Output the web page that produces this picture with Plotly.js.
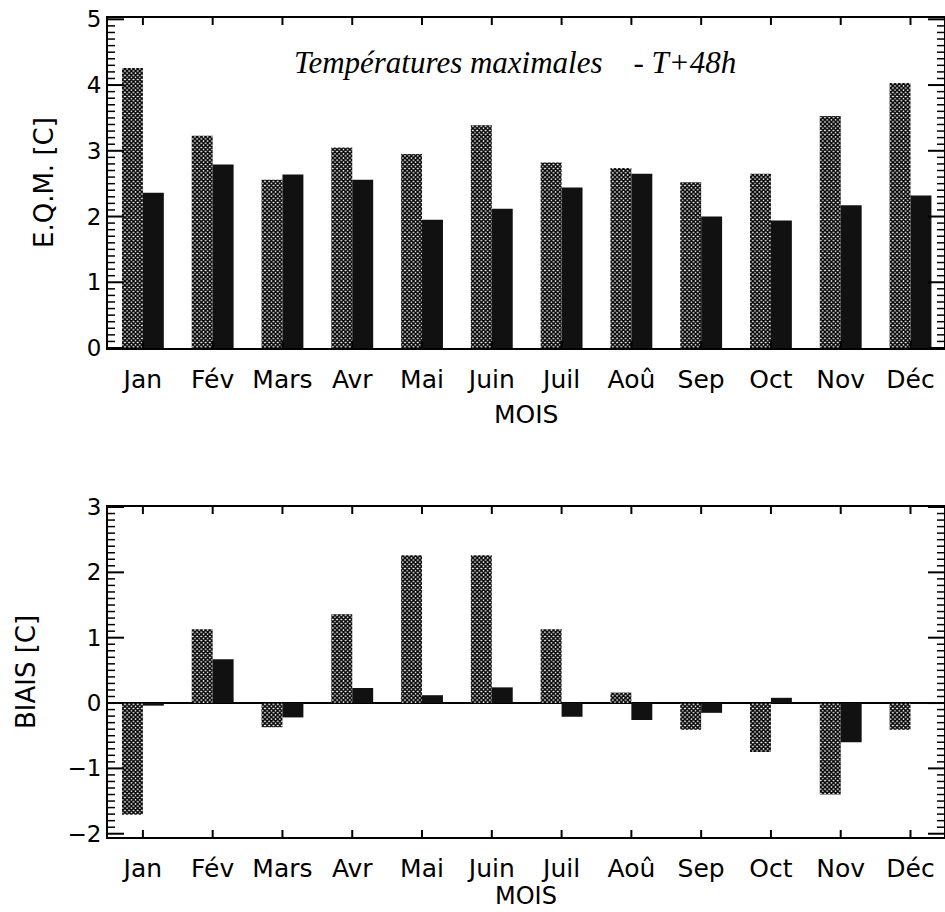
<!DOCTYPE html>
<html>
<head>
<meta charset="utf-8">
<script src="https://cdn.plot.ly/plotly-3.0.1.min.js"></script>
<style>html,body{margin:0;padding:0;background:#fff;}#chart{width:945px;height:912px;}</style>
</head>
<body>
<div id="chart"></div>
<script>
// Data
const months = ['Jan','Fév','Mars','Avr','Mai','Juin','Juil','Aoû','Sep','Oct','Nov','Déc'];
const eqmGrey  = [4.26, 3.23, 2.56, 3.05, 2.95, 3.39, 2.82, 2.74, 2.52, 2.65, 3.53, 4.03];
const eqmBlack = [2.36, 2.79, 2.64, 2.56, 1.95, 2.12, 2.44, 2.65, 2.00, 1.94, 2.17, 2.32];
const biaisGrey  = [-1.71, 1.13, -0.37, 1.36, 2.26, 2.26, 1.13, 0.16, -0.41, -0.75, -1.40, -0.41];
const biaisBlack = [-0.04, 0.67, -0.22, 0.23, 0.12, 0.24, -0.21, -0.26, -0.15, 0.08, -0.60, -0.01];
const eqmRange = [0, 5.02];
const biaisRange = [-2.05, 3];
const titleText = 'Températures maximales\u00A0\u00A0\u00A0 - T+48h';
const yTitleTop = 'E.Q.M. [C]';
const yTitleBottom = 'BIAIS [C]';
const xTitle = 'MOIS';

const W = 945, H = 912;
const PLOT_W = 836, PLOT_H = 330;
const greyMarker = {color: '#ffffff', line: {width: 0},
  pattern: {shape: 'x', fgcolor: '#000000', bgcolor: '#ffffff', size: 3, solidity: 0.75}};
const blackMarker = {color: '#111111', line: {width: 0}};

const traces = [
  {type: 'bar', x: months, y: eqmGrey, xaxis: 'x', yaxis: 'y', marker: greyMarker, hoverinfo: 'none'},
  {type: 'bar', x: months, y: eqmBlack, xaxis: 'x', yaxis: 'y', marker: blackMarker, hoverinfo: 'none'},
  {type: 'bar', x: months, y: biaisGrey, xaxis: 'x2', yaxis: 'y2', marker: greyMarker, hoverinfo: 'none'},
  {type: 'bar', x: months, y: biaisBlack, xaxis: 'x2', yaxis: 'y2', marker: blackMarker, hoverinfo: 'none'}
];

const xDomain = [108 / W, 944 / W];
function xAxis(anchor) {
  return {domain: xDomain, anchor: anchor, type: 'category', range: [-0.5, 11.48],
    showline: true, linecolor: '#000', linewidth: 2, mirror: true, ticks: '',
    showgrid: false, zeroline: false, ticklabelstandoff: 8,
    tickfont: {family: 'DejaVu Sans', size: 25, color: '#000'}, fixedrange: true};
}
function yAxis(anchor, dom, rng, zl) {
  return {domain: dom, anchor: anchor, range: rng, dtick: 1, tick0: 0,
    showline: true, linecolor: '#000', linewidth: 2, mirror: true, ticks: '',
    showgrid: false, zeroline: zl, zerolinecolor: '#000', zerolinewidth: 2,
    tickfont: {family: 'DejaVu Sans', size: 23, color: '#000'}, fixedrange: true};
}

// Tick marks drawn as shapes on the axes' own coordinate systems
function tickShapes(xa, ya, rng) {
  const s = [];
  const ln = {color: '#000', width: 1.5};
  const lnMaj = {color: '#000', width: 2};
  const lo = Math.ceil(rng[0] * 10 - 1e-9), hi = Math.floor(rng[1] * 10 + 1e-9);
  for (let i = lo; i <= hi; i++) {
    const v = i / 10;
    const major = (i % 10 === 0);
    const len = (major ? 16 : 7) / PLOT_W;
    [[0, len], [1, 1 - len]].forEach(function (p) {
      s.push({type: 'line', xref: xa + ' domain', yref: ya, x0: p[0], x1: p[1], y0: v, y1: v,
        line: major ? lnMaj : ln, layer: 'above'});
    });
  }
  const tl = 7 / PLOT_H;
  months.forEach(function (m) {
    [[0, tl], [1, 1 - tl]].forEach(function (p) {
      s.push({type: 'line', xref: xa, yref: ya + ' domain', x0: m, x1: m, y0: p[0], y1: p[1],
        line: lnMaj, layer: 'above'});
    });
  });
  return s;
}

const layout = {
  width: W, height: H,
  margin: {l: 0, r: 0, t: 0, b: 0},
  paper_bgcolor: '#fff', plot_bgcolor: '#fff',
  showlegend: false, barmode: 'group', bargap: 0.4, bargroupgap: 0,
  xaxis: xAxis('y'),
  yaxis: yAxis('x', [1 - 348 / H, 1 - 18 / H], eqmRange, false),
  xaxis2: xAxis('y2'),
  yaxis2: yAxis('x2', [1 - 837 / H, 1 - 507 / H], biaisRange, true),
  shapes: tickShapes('x', 'y', eqmRange).concat(tickShapes('x2', 'y2', biaisRange)),
  annotations: [
    {text: titleText, xref: 'paper', yref: 'paper', x: 515 / W, y: 1 - 63 / H,
      xanchor: 'center', yanchor: 'middle', showarrow: false,
      font: {family: 'Liberation Serif', size: 31, style: 'italic', color: '#000'}},
    {text: yTitleTop, xref: 'paper', yref: 'paper', x: 44 / W, y: 1 - 183 / H, textangle: -90,
      xanchor: 'center', yanchor: 'middle', showarrow: false,
      font: {family: 'DejaVu Sans', size: 26, color: '#000'}},
    {text: yTitleBottom, xref: 'paper', yref: 'paper', x: 26 / W, y: 1 - 672 / H, textangle: -90,
      xanchor: 'center', yanchor: 'middle', showarrow: false,
      font: {family: 'DejaVu Sans', size: 26, color: '#000'}},
    {text: xTitle, xref: 'paper', yref: 'paper', x: 526 / W, y: 1 - 414 / H,
      xanchor: 'center', yanchor: 'middle', showarrow: false,
      font: {family: 'DejaVu Sans', size: 25, color: '#000'}},
    {text: xTitle, xref: 'paper', yref: 'paper', x: 526 / W, y: 1 - 896 / H,
      xanchor: 'center', yanchor: 'middle', showarrow: false,
      font: {family: 'DejaVu Sans', size: 24, color: '#000'}}
  ]
};

Plotly.newPlot('chart', traces, layout, {staticPlot: true, displayModeBar: false});
</script>
</body>
</html>
